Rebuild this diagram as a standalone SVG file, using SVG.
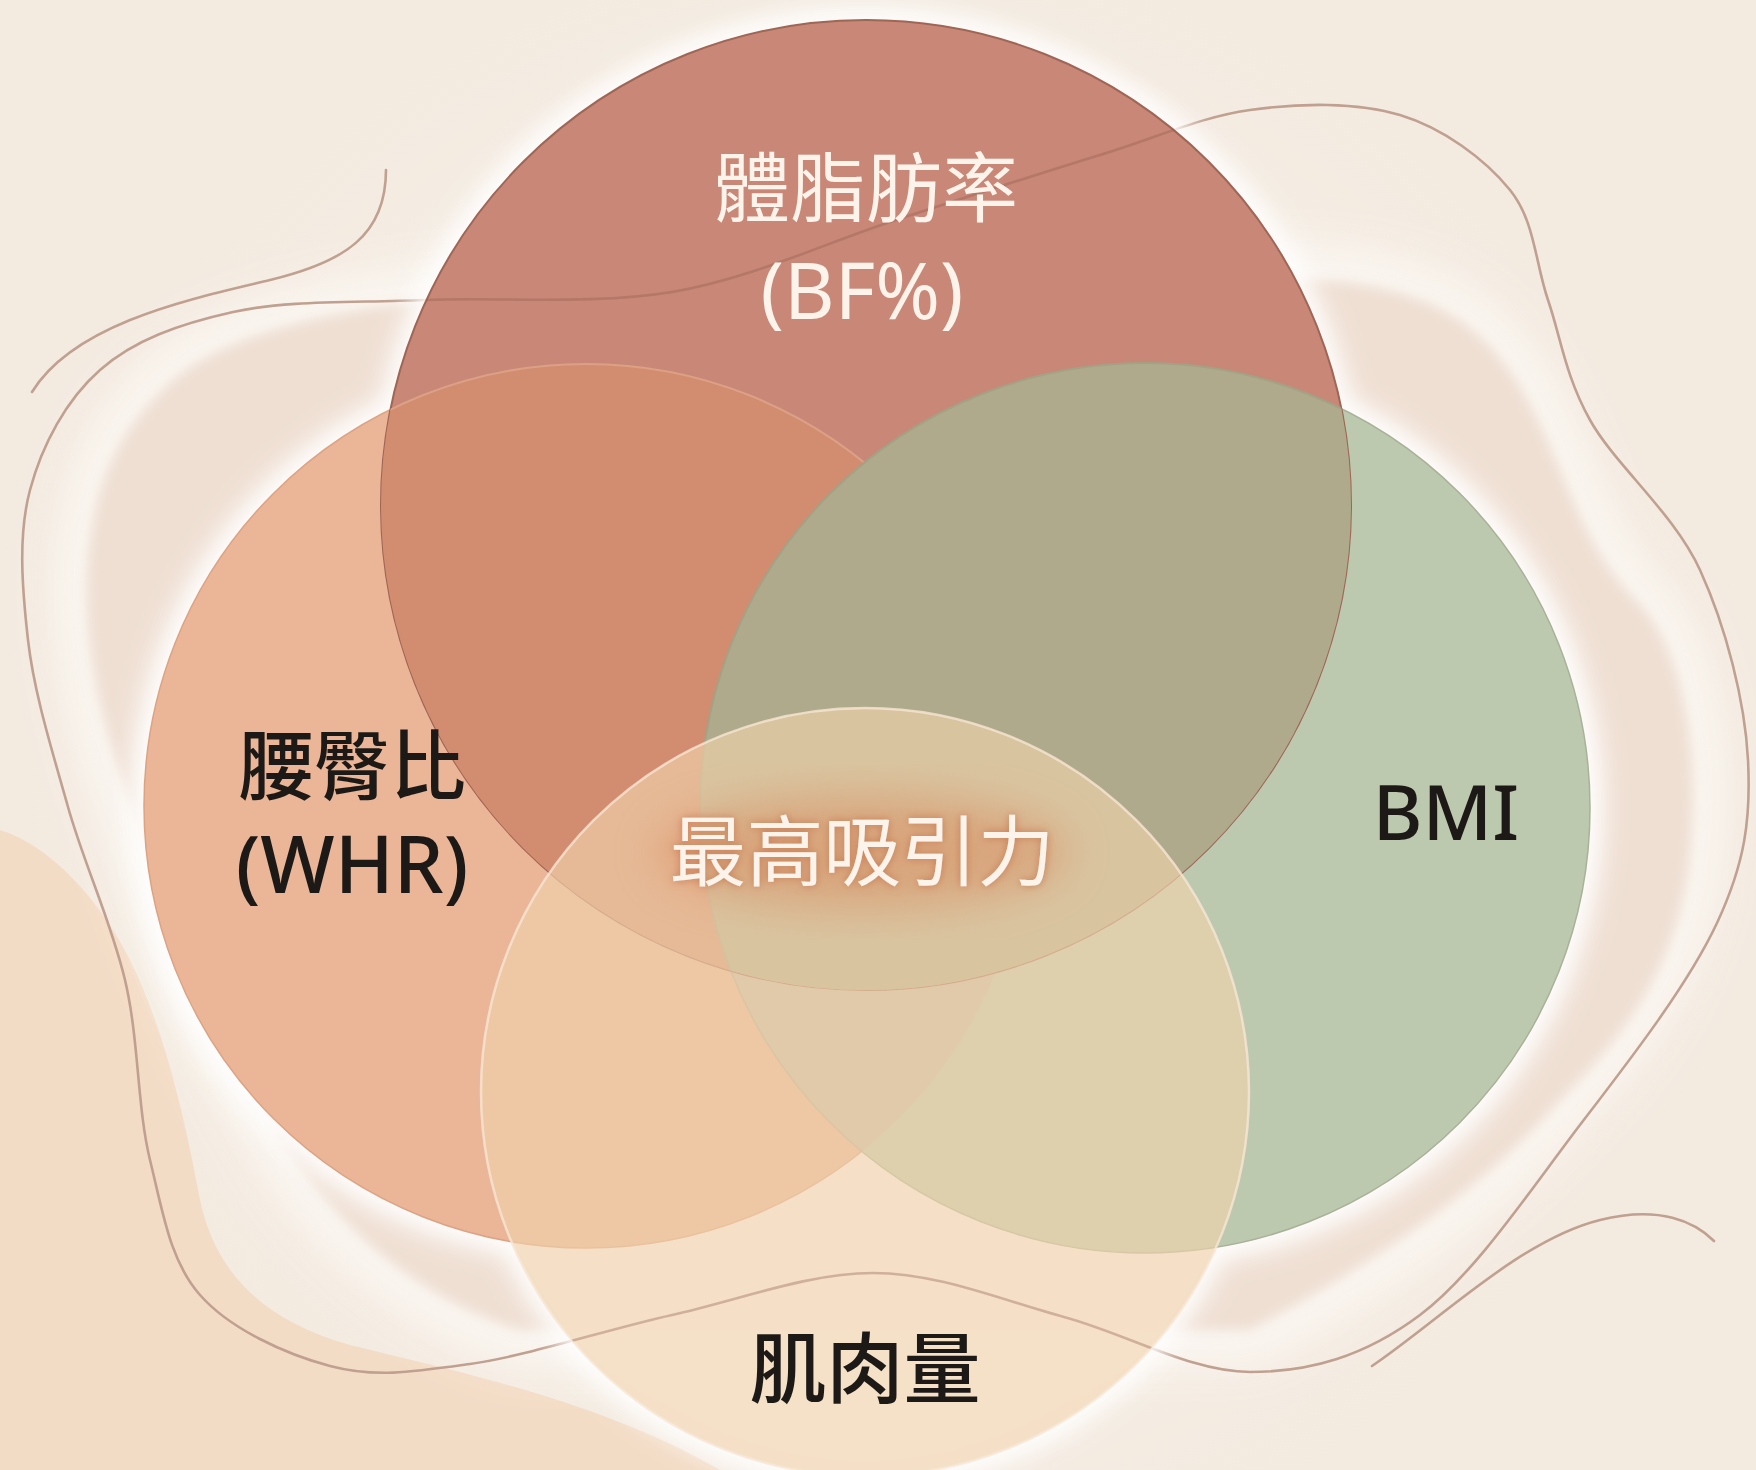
<svg xmlns="http://www.w3.org/2000/svg" width="1756" height="1470" viewBox="0 0 1756 1470">
<defs>
<style>
.lbl{font-family:'Noto Sans','Noto Sans CJK TC',sans-serif;text-anchor:middle;font-weight:500}
.dark{fill:#1d1916}
.light{fill:#fcf3ea;font-weight:400}
.wave{fill:none;stroke:#c0a090;stroke-width:2.6;stroke-linecap:round}
.waveOver{fill:none;stroke:#8f5a4a;stroke-width:2.6;stroke-linecap:round;opacity:0.35}
</style>
<filter id="blur6" x="-20%" y="-20%" width="140%" height="140%"><feGaussianBlur stdDeviation="6"/></filter>
<filter id="blur22" x="-30%" y="-30%" width="160%" height="160%"><feGaussianBlur stdDeviation="22"/></filter>
<filter id="halo" x="-20%" y="-20%" width="140%" height="140%"><feGaussianBlur stdDeviation="12"/></filter>
<filter id="glowtext" x="-20%" y="-40%" width="140%" height="180%">
<feGaussianBlur in="SourceAlpha" stdDeviation="4" result="b"/>
<feFlood flood-color="#c2724a" flood-opacity="0.85"/>
<feComposite in2="b" operator="in"/>
<feMerge><feMergeNode/><feMergeNode in="SourceGraphic"/></feMerge>
</filter>
<radialGradient id="bgGlow" cx="866" cy="760" r="900" gradientUnits="userSpaceOnUse">
<stop offset="0" stop-color="#fffcf8" stop-opacity="0.9"/>
<stop offset="0.6" stop-color="#fbf6f0" stop-opacity="0.6"/>
<stop offset="1" stop-color="#f3e9de" stop-opacity="0"/>
</radialGradient>
<clipPath id="clipT"><circle cx="866" cy="505" r="485"/></clipPath>
<clipPath id="clipL"><circle cx="586" cy="806" r="442"/></clipPath>
<clipPath id="clipAll">
<circle cx="866" cy="505" r="485"/>
<circle cx="586" cy="806" r="442"/>
<circle cx="1145" cy="808" r="445"/>
<circle cx="865" cy="1092" r="384"/>
</clipPath>
<path id="loopPath" d="M425 300 C352 303 287 300 233 312 S134 340 100 370 S42 445 30 490 S22 587 28 640 S52 750 68 807 S111 921 125 980 S137 1107 150 1160 S170 1261 200 1295 S285 1354 330 1366 S413 1372 470 1364 S605 1330 672 1315 S808 1273 873 1273 S1001 1300 1064 1317 S1191 1372 1250 1372 S1364 1357 1420 1315 S1533 1186 1583 1121 S1689 983 1717 923 S1751 819 1748 760 S1726 627 1700 570 S1615 465 1590 420 S1561 338 1548 300 S1535 221 1510 190 S1443 128 1400 115 S1300 103 1250 110 S1159 137 1100 155 S967 197 896 220 S750 279 672 292 S498 297 425 300 Z"/>
</defs>

<g id="background">
<rect width="1756" height="1470" fill="#f3eae0"/>
<rect width="1756" height="1470" fill="url(#bgGlow)"/>
<path d="M0 830 C50 845 100 900 130 960 C165 1030 185 1120 200 1200 C215 1270 260 1320 350 1345 C450 1370 600 1400 720 1470 L0 1470 Z" fill="#f3dcc6"/>
<path d="M440 300 C330 310 220 335 167 386 C120 430 95 480 88 560 C82 640 100 720 130 800 C160 880 200 1000 260 1100 C320 1220 420 1300 520 1330 L1250 1330 C1400 1250 1500 1170 1560 1100 C1630 1030 1680 960 1690 850 C1700 740 1680 650 1640 605 C1600 565 1585 530 1560 470 C1530 400 1500 330 1420 300 C1380 285 1340 280 1300 280 C1100 270 700 285 440 300 Z" fill="#fbf7f2" stroke="#fbf7f2" stroke-width="70" filter="url(#blur22)" opacity="0.9"/>
<path d="M440 300 C330 310 220 335 167 386 C120 430 95 480 88 560 C82 640 100 720 130 800 C160 880 200 1000 260 1100 C320 1220 420 1300 520 1330 L1250 1330 C1400 1250 1500 1170 1560 1100 C1630 1030 1680 960 1690 850 C1700 740 1680 650 1640 605 C1600 565 1585 530 1560 470 C1530 400 1500 330 1420 300 C1380 285 1340 280 1300 280 C1100 270 700 285 440 300 Z" fill="#efdfd3" filter="url(#blur6)"/>
</g>

<g id="decor">
<use href="#loopPath" class="wave"/>
<path class="wave" d="M386 170 C386 235 345 262 270 280 C195 298 75 322 32 392"/>
<path class="wave" d="M1372 1366 C1440 1320 1520 1240 1600 1220 C1660 1205 1695 1222 1714 1241"/>
</g>

<g id="halo" filter="url(#halo)" fill="#ffffff" opacity="0.95">
<circle cx="866" cy="505" r="497"/>
<circle cx="586" cy="806" r="456"/>
<circle cx="1145" cy="808" r="459"/>
<circle cx="865" cy="1092" r="396"/>
</g>

<g id="node-whr-circle">
<circle cx="586" cy="806" r="442" fill="#eab697" stroke="#dea283" stroke-width="1.5"/>
</g>
<g id="node-bmi-circle">
<circle cx="1145" cy="808" r="445" fill="#bdc9af" stroke="#a7b298" stroke-width="1.5"/>
</g>
<g id="overlap-whr-bmi" clip-path="url(#clipL)">
<circle cx="1145" cy="808" r="445" fill="#c4bca3" stroke="#b2ad94" stroke-width="1.5"/>
</g>
<g id="node-bf-circle">
<circle cx="866" cy="505" r="485" fill="#c98777" stroke="#9f6555" stroke-width="2"/>
</g>
<g id="overlap-bf-whr" clip-path="url(#clipT)">
<circle cx="586" cy="806" r="442" fill="#d28d70" stroke="#dca085" stroke-width="2"/>
</g>
<g id="overlap-bf-bmi" clip-path="url(#clipT)">
<circle cx="1145" cy="808" r="445" fill="#aeaa8b" stroke="#a3a285" stroke-width="2"/>
</g>
<g id="node-muscle-circle">
<circle cx="865" cy="1092" r="384" fill="#f0d1ac" fill-opacity="0.66" stroke="#f8e6d4" stroke-width="2.5" stroke-opacity="0.8"/>
</g>

<g id="decor-over" clip-path="url(#clipAll)">
<use href="#loopPath" class="waveOver"/>
</g>

<ellipse cx="862" cy="852" rx="205" ry="55" fill="#d8875a" opacity="0.5" filter="url(#blur22)"/>

<g id="node-bf">
<text class="lbl light" x="866" y="216" font-size="76">體脂肪率</text>
<text class="lbl light" x="862" y="319" font-size="78">(BF%)</text>
</g>
<g id="node-whr">
<text class="lbl dark" x="352" y="794" font-size="76">腰臀比</text>
<text class="lbl dark" x="352" y="893" font-size="79">(WHR)</text>
</g>
<g id="node-bmi">
<text class="lbl dark" x="1446" y="840" font-size="76">BMI</text>
</g>
<g id="node-center">
<text class="lbl light" x="862" y="880" font-size="77" filter="url(#glowtext)">最高吸引力</text>
</g>
<g id="node-muscle">
<text class="lbl dark" x="865" y="1397" font-size="77">肌肉量</text>
</g>
</svg>
